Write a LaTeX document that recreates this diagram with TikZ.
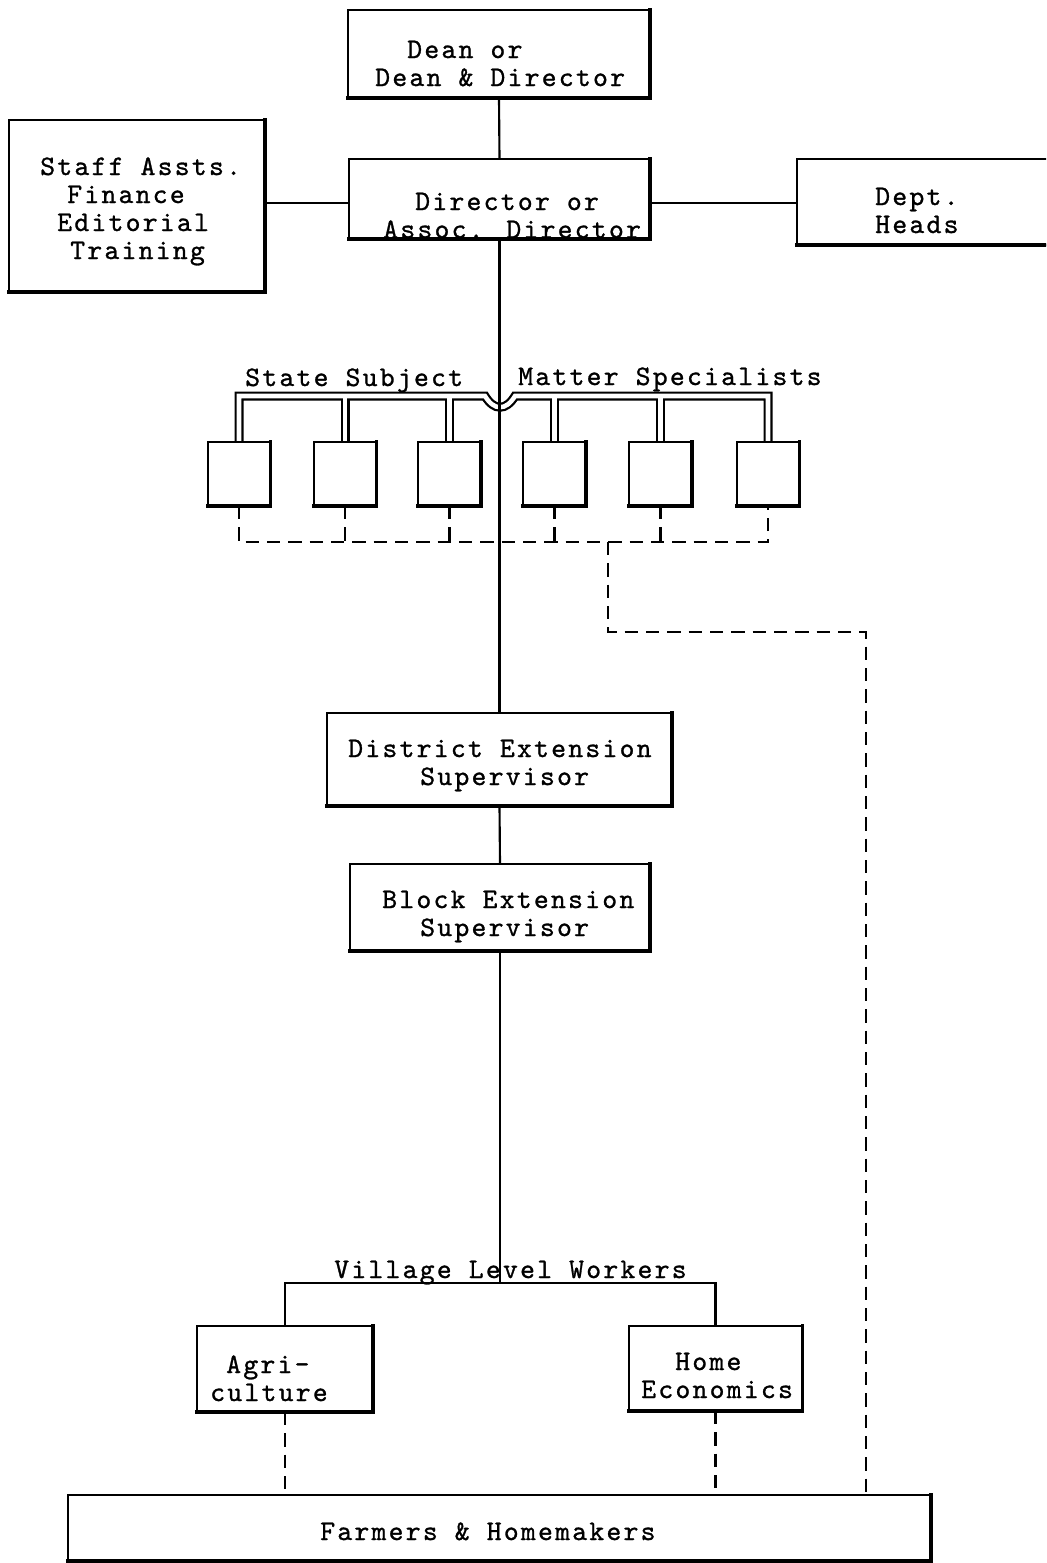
\documentclass[tikz,border=0pt]{standalone}
\usepackage{fontspec}
\newfontfamily\twfont{lmmono10-regular.otf}[FakeBold=1,LetterSpace=8]
\usetikzlibrary{backgrounds}
\begin{document}
\begin{tikzpicture}[x=0.75pt,y=-0.75pt,
  box/.style={draw, line width=1.5pt, outer sep=0pt, inner sep=0pt},
  txt/.style={anchor=base west, inner sep=0pt, font=\twfont\fontsize{21.2pt}{21pt}\selectfont},
  conn/.style={line width=1.6pt},
  dsh/.style={line width=2pt, dash pattern=on 10pt off 6pt},
  heavy/.style={line width=2.6pt, line cap=rect}]
\useasboundingbox (0,0) rectangle (1046,1563);
\clip (0,0) rectangle (1046,1563);

% boxes
\node[box, minimum width=302*0.75pt, minimum height=88*0.75pt] (dean) at (499,54) {};
\node[box, minimum width=301*0.75pt, minimum height=80*0.75pt] (dir) at (499.5,199) {};
\node[box, minimum width=256*0.75pt, minimum height=172*0.75pt] (staff) at (137,206) {};
\node[box, minimum width=273*0.75pt, minimum height=86*0.75pt] (dept) at (933.5,202) {};
\foreach \n/\x in {s1/239,s2/345,s3/449.5,s4/554.5,s5/660.5,s6/768}
  \node[box, minimum width=63*0.75pt, minimum height=64*0.75pt] (\n) at (\x,474) {};
\node[box, minimum width=345*0.75pt, minimum height=93*0.75pt] (dist) at (499.5,759.5) {};
\node[box, minimum width=300*0.75pt, minimum height=87*0.75pt] (block) at (500,907.5) {};
\node[box, minimum width=176*0.75pt, minimum height=86*0.75pt] (agri) at (285,1369) {};
\node[box, minimum width=174*0.75pt, minimum height=85*0.75pt] (home) at (715.5,1368.5) {};
\node[box, minimum width=863*0.75pt, minimum height=66*0.75pt] (farm) at (499.5,1528) {};

% heavier bottom and right edges (typewriter look)
\foreach \n in {dean,dir,staff,dept,s1,s2,s3,s4,s5,s6,dist,block,agri,home,farm}
  \draw[heavy] (\n.south west) -- (\n.south east) -- (\n.north east);

% texts (first-line baseline at the node position)
\node[txt] (tdean) at (375,58) {\begin{tabular}[t]{@{}l@{}}\hspace*{24pt}Dean or\\Dean \& Director\end{tabular}};
\node[txt] (tdir) at (383,210) {\begin{tabular}[t]{@{}l@{}}\hspace*{24pt}Director or\\Assoc. Director\end{tabular}};
\node[txt] (tstaff) at (40,175) {\begin{tabular}[t]{@{}l@{}}Staff Assts.\\\hspace*{20.25pt}Finance\\\hspace*{12.75pt}Editorial\\\hspace*{22.5pt}Training\end{tabular}};
\node[txt] (tdept) at (875,205) {\begin{tabular}[t]{@{}l@{}}Dept.\\Heads\end{tabular}};
\node[txt] (tss) at (245,386) {State Subject};
\node[txt] (tms) at (518,385) {Matter Specialists};
\node[txt] (tdist) at (348,757) {\begin{tabular}[t]{@{}l@{}}District Extension\\\hspace*{54pt}Supervisor\end{tabular}};
\node[txt] (tblock) at (382,908) {\begin{tabular}[t]{@{}l@{}}Block Extension\\\hspace*{28.5pt}Supervisor\end{tabular}};
\node[txt] (tvlw) at (334,1278) {Village Level Workers};
\node[txt] (tagri) at (210,1373) {\begin{tabular}[t]{@{}l@{}}\hspace*{12pt}Agri-\\culture\end{tabular}};
\node[txt] (thome) at (641,1370) {\begin{tabular}[t]{@{}l@{}}\hspace*{25.5pt}Home\\Economics\end{tabular}};
\node[txt] (tfarm) at (320,1540) {Farmers \& Homemakers};

% coordinates
\coordinate (bus) at (500,396);
\coordinate (dl) at (500,542);
\coordinate (br) at (608,542);
\coordinate (bc) at (866,632);
\coordinate (vl) at (500,1283);

% white page and double-line bus of specialists, behind everything
\begin{scope}[on background layer]
  \fill[white] (0,0) rectangle (1046,1563);
  \foreach \w/\c in {6.75pt/black,3.4pt/white}{
    \draw[line width=\w, color=\c, line join=miter]
      (s1.north) -- (s1.north |- bus) -- (485,396)
      .. controls (494,411) and (506,411) .. (515,396)
      -- (s6.north |- bus) -- (s6.north);
    \foreach \n in {s2,s3,s4,s5}
      \draw[line width=\w, color=\c] (\n.north) -- (\n.north |- bus);
  }
\end{scope}

% solid connectors
\draw[conn] (dean.south) -- (dir.north);
\draw[conn] (staff.east |- 0,203) -- (dir.west |- 0,203);
\draw[conn] (dir.east |- 0,203) -- (dept.west |- 0,203);
\draw[conn] (dir.south) -- (dist.north);
\draw[conn] (dist.south) -- (block.north);
\draw[conn] (block.south) -- (vl);
\draw[conn] (agri.north) |- (vl) -| (home.north);

% dashed connectors
\draw[dsh] (s1.south) -- (s1.south |- dl) -- (s6.south |- dl) -- (s6.south);
\foreach \n in {s2,s3,s4,s5}
  \draw[dsh] (\n.south) -- (\n.south |- dl);
\draw[dsh] (br) |- (bc) -- (bc |- farm.north);
\draw[dsh] (agri.south) -- (agri.south |- farm.north);
\draw[dsh] (home.south) -- (home.south |- farm.north);
\end{tikzpicture}
\end{document}
